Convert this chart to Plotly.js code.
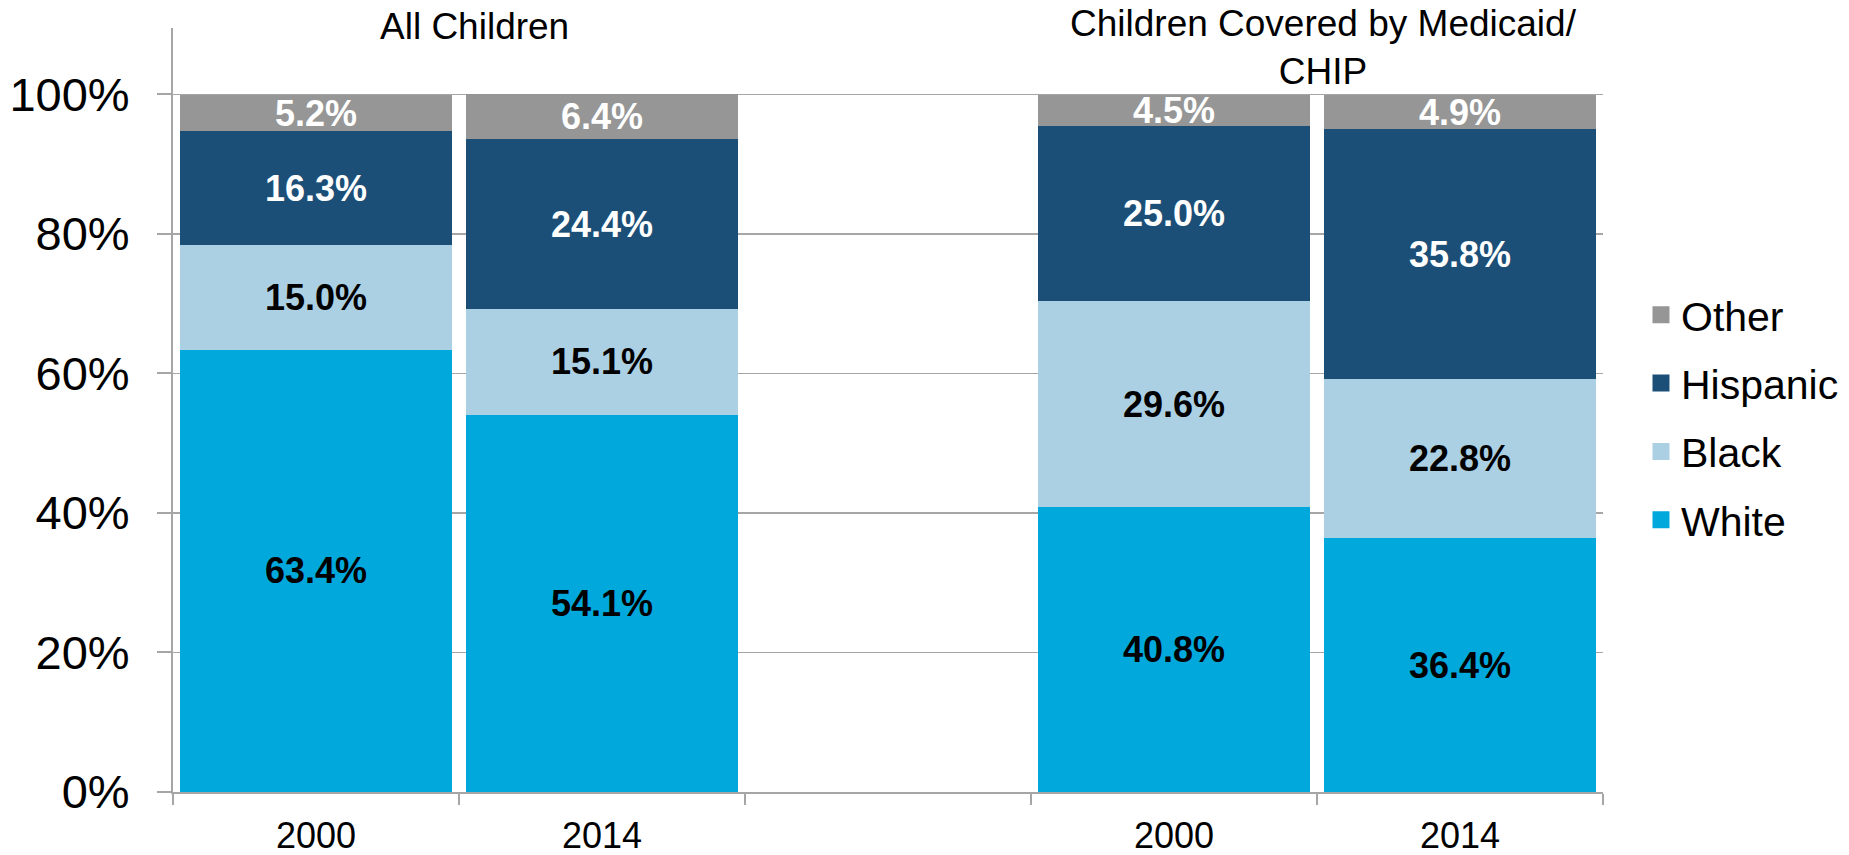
<!DOCTYPE html>
<html>
<head>
<meta charset="utf-8">
<script src="https://cdn.plot.ly/plotly-3.0.1.min.js"></script>
<style>
  html, body { margin: 0; padding: 0; background: #ffffff; }
  #chart { width: 1849px; height: 855px; }
</style>
</head>
<body>
<div id="chart"></div>
<script>
// ---- Data ----
const categoryKeys = ['All Children 2000', 'All Children 2014', 'spacer', 'Medicaid/CHIP 2000', 'Medicaid/CHIP 2014'];
const yearLabels = ['2000', '2014', '', '2000', '2014'];
const groupTitles = ['All Children', 'Children Covered by Medicaid/<br>CHIP'];
const groupCenters = [0.5, 3.5];

const whiteValues    = [63.4, 54.1, null, 40.8, 36.4];
const blackValues    = [15.0, 15.1, null, 29.6, 22.8];
const hispanicValues = [16.3, 24.4, null, 25.0, 35.8];
const otherValues    = [5.2, 6.4, null, 4.5, 4.9];

const seriesNames = ['White', 'Black', 'Hispanic', 'Other'];
const seriesValues = [whiteValues, blackValues, hispanicValues, otherValues];
const seriesColors = ['#00a8dc', '#abd0e4', '#1c4f78', '#969696'];
const labelColors = ['#000000', '#000000', '#ffffff', '#ffffff'];
const legendRanks = [4, 3, 2, 1];

const yTicks = [0, 20, 40, 60, 80, 100];

const FONT = 'Liberation Sans, Arial, sans-serif';

// Data bars
const traces = seriesNames.map((name, i) => ({
  type: 'bar',
  name: name,
  x: categoryKeys,
  y: seriesValues[i],
  marker: { color: seriesColors[i], line: { width: 0 } },
  text: seriesValues[i].map(v => v == null ? '' : v.toFixed(1) + '%'),
  texttemplate: '%{text}',
  textposition: 'inside',
  insidetextanchor: 'middle',
  textangle: 0,
  constraintext: 'none',
  insidetextfont: { family: FONT, size: 36, color: labelColors[i], weight: 'bold' },
  hoverinfo: 'skip',
  legendgroup: name,
  showlegend: false
}));

// Legend entries (no data drawn; larger legend swatches)
const legendTraces = seriesNames.map((name, i) => ({
  type: 'bar',
  name: name,
  x: [categoryKeys[0]],
  y: [null],
  marker: { color: seriesColors[i], line: { width: 5, color: seriesColors[i] } },
  hoverinfo: 'skip',
  legendgroup: name,
  legendrank: legendRanks[i],
  showlegend: true
}));

const layout = {
  width: 1849,
  height: 855,
  paper_bgcolor: '#ffffff',
  plot_bgcolor: '#ffffff',
  margin: { l: 173, r: 246, t: 28, b: 63 },
  barmode: 'stack',
  bargap: 0.05,
  font: { family: FONT, color: '#000000' },
  showlegend: true,
  legend: {
    xref: 'container',
    x: 0.8875, xanchor: 'left',
    y: 0.49, yanchor: 'middle',
    traceorder: 'grouped',
    tracegroupgap: 12,
    font: { family: FONT, size: 41, color: '#000000' },
    bgcolor: 'rgba(0,0,0,0)'
  },
  xaxis: {
    type: 'category',
    categoryorder: 'array',
    categoryarray: categoryKeys,
    tickmode: 'array',
    tickvals: categoryKeys,
    ticktext: yearLabels,
    range: [-0.5, 4.5],
    tickson: 'boundaries',
    ticks: 'outside',
    ticklen: 11,
    tickwidth: 2,
    tickcolor: '#a6a6a6',
    showline: true,
    linecolor: '#a6a6a6',
    linewidth: 2,
    showgrid: false,
    zeroline: false,
    tickfont: { family: FONT, size: 36, color: '#000000' },
    ticklabelstandoff: 11,
    fixedrange: true
  },
  yaxis: {
    range: [0, 109.5],
    tickmode: 'array',
    tickvals: yTicks,
    ticktext: yTicks.map(v => v + '%'),
    ticks: 'outside',
    ticklen: 14,
    tickwidth: 2,
    tickcolor: '#a6a6a6',
    showline: true,
    linecolor: '#a6a6a6',
    linewidth: 2,
    showgrid: true,
    gridcolor: '#a6a6a6',
    gridwidth: 1.5,
    zeroline: false,
    tickfont: { family: FONT, size: 47, color: '#000000' },
    ticklabelstandoff: 18,
    fixedrange: true
  },
  annotations: groupTitles.map((t, i) => ({
    text: t,
    x: groupCenters[i],
    xref: 'x',
    xshift: i === 0 ? 15 : 6,
    y: i === 0 ? 1.0026 : 0.974,
    yref: 'paper',
    yanchor: 'middle',
    xanchor: 'center',
    align: 'center',
    showarrow: false,
    font: { family: FONT, size: 37, color: '#000000' }
  }))
};

Plotly.newPlot('chart', traces.concat(legendTraces), layout, { displayModeBar: false, staticPlot: true });
</script>
</body>
</html>
